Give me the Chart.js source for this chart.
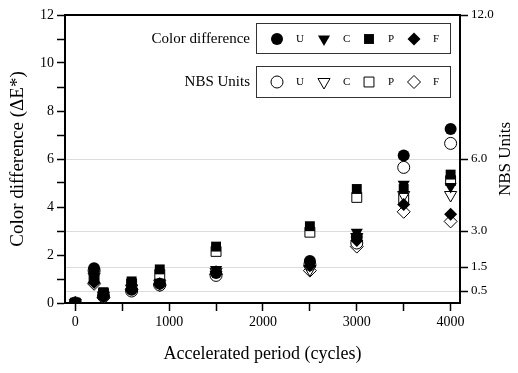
<!DOCTYPE html>
<html>
<head>
<meta charset="utf-8">
<script src="https://cdn.jsdelivr.net/npm/chart.js@4"></script>
<style>
  body { margin: 0; background: #fff; }
  #wrap { width: 518px; height: 373px; }
</style>
</head>
<body>
<div id="wrap"><canvas id="myChart"></canvas></div>
<script>
const cycles = [0, 200, 300, 600, 900, 1500, 2500, 3000, 3500, 4000];

// color difference (filled markers)
const dE_U = [0, 1.45, 0.30, 0.55, 0.80, 1.25, 1.75, 2.75, 6.15, 7.25];
const dE_C = [0, 1.20, 0.35, 0.65, 0.85, 1.40, 1.60, 2.95, 4.95, 4.85];
const dE_P = [0, 1.10, 0.45, 0.90, 1.40, 2.35, 3.20, 4.75, 4.75, 5.35];
const dE_F = [0, 0.85, 0.25, 0.60, 0.80, 1.30, 1.55, 2.60, 4.10, 3.70];

// NBS units (open markers)
const nbs_U = [0, 1.35, 0.28, 0.50, 0.75, 1.15, 1.60, 2.50, 5.65, 6.65];
const nbs_C = [0, 1.10, 0.30, 0.60, 0.80, 1.30, 1.40, 2.75, 4.50, 4.50];
const nbs_P = [0, 1.00, 0.40, 0.80, 1.20, 2.15, 2.95, 4.40, 4.35, 5.10];
const nbs_F = [0, 0.80, 0.22, 0.55, 0.75, 1.20, 1.35, 2.35, 3.80, 3.40];

const nbsTicks = [0.5, 1.5, 3.0, 6.0, 12.0];
const xTicks = [0, 500, 1000, 1500, 2000, 2500, 3000, 3500, 4000];

const FONT = 'Liberation Serif';

function pts(ys) {
  return cycles.map(function(x, i) { return {x: x, y: ys[i]}; });
}

function mk(label, ys, style, filled, r, rot) {
  return {
    label: label,
    data: pts(ys),
    pointStyle: style,
    pointRadius: r,
    pointRotation: rot || 0,
    backgroundColor: filled ? '#000' : '#fff',
    borderColor: '#000',
    borderWidth: filled ? 0 : 1,
    showLine: false
  };
}

const datasets = [
  mk('U', dE_U, 'circle', true, 6),
  mk('C', dE_C, 'triangle', true, 7, 180),
  mk('P', dE_P, 'rect', true, 7),
  mk('F', dE_F, 'rectRot', true, 6.5),
  mk('U', nbs_U, 'circle', false, 6),
  mk('C', nbs_C, 'triangle', false, 7, 180),
  mk('P', nbs_P, 'rect', false, 7),
  mk('F', nbs_F, 'rectRot', false, 6.5)
];

// boxed legends + top frame line + right title (reads bottom to top)
const boxLegend = {
  id: 'boxLegend',
  afterDraw: function(chart) {
    const ctx = chart.ctx;
    const rows = [
      {title: 'Color difference', y: 39, top: 23, h: 30, sets: datasets.slice(0, 4)},
      {title: 'NBS Units', y: 82, top: 66, h: 31, sets: datasets.slice(4)}
    ];
    const mx = [277, 324, 369, 414];
    ctx.save();
    rows.forEach(function(row) {
      ctx.strokeStyle = '#333';
      ctx.lineWidth = 1;
      ctx.strokeRect(256.5, row.top + 0.5, 194, row.h);
      ctx.fillStyle = '#000';
      ctx.font = '15px ' + FONT;
      ctx.textAlign = 'right';
      ctx.textBaseline = 'middle';
      ctx.fillText(row.title, 250, row.y);
      row.sets.forEach(function(ds, i) {
        ctx.fillStyle = ds.backgroundColor;
        ctx.strokeStyle = '#000';
        ctx.lineWidth = ds.borderWidth || 0.001;
        Chart.helpers.drawPoint(ctx, {
          pointStyle: ds.pointStyle,
          radius: ds.pointRadius,
          rotation: ds.pointRotation,
          borderWidth: ds.borderWidth
        }, mx[i], row.y);
        ctx.fillStyle = '#000';
        ctx.font = '11px ' + FONT;
        ctx.textAlign = 'left';
        ctx.fillText(ds.label, mx[i] + 19, row.y);
      });
    });
    const a = chart.chartArea;
    ctx.strokeStyle = '#000';
    ctx.lineWidth = 2;
    ctx.beginPath();
    ctx.moveTo(a.left, a.top);
    ctx.lineTo(a.right, a.top);
    ctx.stroke();

    ctx.translate(506, (a.top + a.bottom) / 2);
    ctx.rotate(-Math.PI / 2);
    ctx.fillStyle = '#000';
    ctx.font = '17px ' + FONT;
    ctx.textAlign = 'center';
    ctx.textBaseline = 'middle';
    ctx.fillText('NBS Units', 0, 0);
    ctx.restore();
  }
};

const config = {
  type: 'scatter',
  data: { datasets: datasets },
  options: {
    responsive: true,
    maintainAspectRatio: false,
    animation: false,
    layout: { padding: { top: 15, right: 0, left: 0, bottom: 0 } },
    plugins: {
      legend: { display: false },
      tooltip: { enabled: false }
    },
    scales: {
      x: {
        type: 'linear',
        min: -110,
        max: 4100,
        afterFit: function(s) { s.height = 70; },
        afterBuildTicks: function(s) { s.ticks = xTicks.map(function(v) { return {value: v}; }); },
        ticks: {
          color: '#000',
          font: { family: FONT, size: 14 },
          maxRotation: 0,
          autoSkip: false,
          callback: function(v) { return v % 1000 === 0 ? String(v) : ''; }
        },
        grid: { drawOnChartArea: false, color: '#000', tickLength: 8, tickWidth: 1.5 },
        border: { color: '#000', width: 2 },
        title: { display: true, text: 'Accelerated period (cycles)', color: '#000',
                 font: { family: FONT, size: 18 }, padding: { top: 6, bottom: 8 } }
      },
      y: {
        position: 'left',
        min: 0,
        max: 12,
        afterFit: function(s) { s.width = 65; },
        ticks: {
          stepSize: 1,
          color: '#000',
          font: { family: FONT, size: 14 },
          callback: function(v) { return v % 2 === 0 ? String(v) : ''; }
        },
        grid: { drawOnChartArea: false, color: '#000', tickLength: 8, tickWidth: 1.5 },
        border: { color: '#000', width: 2 },
        title: { display: true, text: 'Color difference (\u0394E*)', color: '#000',
                 font: { family: FONT, size: 19 }, padding: { top: 7, bottom: 2 } }
      },
      y2: {
        position: 'right',
        min: 0,
        max: 12,
        afterFit: function(s) { s.width = 58; },
        afterBuildTicks: function(s) { s.ticks = nbsTicks.map(function(v) { return {value: v}; }); },
        ticks: {
          color: '#000',
          font: { family: FONT, size: 13 },
          autoSkip: false,
          callback: function(v) { return v.toFixed(1); }
        },
        grid: { drawOnChartArea: true, color: '#dcdcdc',
                tickColor: '#000', tickLength: 8, tickWidth: 1.5 },
        border: { color: '#000', width: 2 }
      }
    }
  },
  plugins: [boxLegend]
};

const myChart = new Chart(document.getElementById('myChart'), config);
</script>
</body>
</html>
